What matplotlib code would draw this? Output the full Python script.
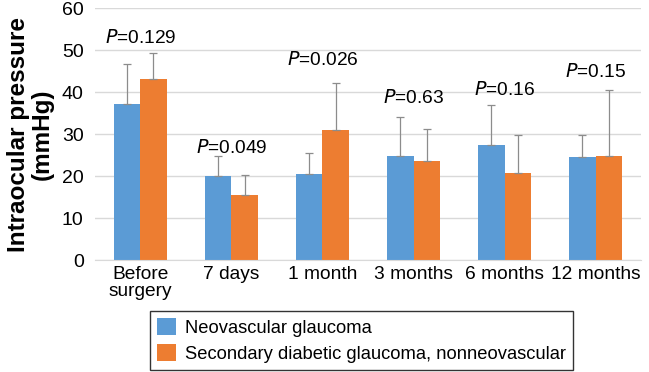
import numpy as np
import matplotlib.pyplot as plt

plt.rcParams['font.family'] = ['Liberation Sans', 'DejaVu Sans']

# data
groups = ['Before\nsurgery', '7 days', '1 month', '3 months', '6 months', '12 months']
neo_mean = [37.1, 19.9, 20.6, 24.7, 27.4, 24.5]
neo_top = [46.7, 24.8, 25.5, 34.0, 36.9, 29.8]
sec_mean = [43.2, 15.6, 31.0, 23.5, 20.8, 24.7]
sec_top = [49.4, 20.2, 42.1, 31.3, 29.8, 40.5]
p_labels = ['0.129', '0.049', '0.026', '0.63', '0.16', '0.15']
p_y = [52.8, 26.7, 47.6, 38.5, 40.6, 44.8]

blue = '#5B9BD5'
orange = '#ED7D31'

fig = plt.figure(figsize=(6.49, 3.72), dpi=100)
ax = fig.add_axes([0.146, 0.301, 0.842, 0.677])

x = np.arange(len(groups))
w = 0.29
neo_err = np.array(neo_top) - np.array(neo_mean)
sec_err = np.array(sec_top) - np.array(sec_mean)

b1 = ax.bar(x - w / 2, neo_mean, w, color=blue, label='Neovascular glaucoma', zorder=2)
b2 = ax.bar(x + w / 2, sec_mean, w, color=orange,
            label='Secondary diabetic glaucoma, nonneovascular', zorder=2)
ax.errorbar(x - w / 2, neo_mean, yerr=[np.zeros(len(x)), neo_err], fmt='none',
            ecolor='#8c8c8c', elinewidth=0.9, capsize=3, capthick=0.9, zorder=3)
ax.errorbar(x + w / 2, sec_mean, yerr=[np.zeros(len(x)), sec_err], fmt='none',
            ecolor='#8c8c8c', elinewidth=0.9, capsize=3, capthick=0.9, zorder=3)

for xi, lab, yy in zip(x, p_labels, p_y):
    ax.text(xi, yy, r'$\it{P}$=' + lab, ha='center', va='center', fontsize=13.8)

ax.set_xlim(-0.5, len(groups) - 0.5)
ax.set_ylim(0, 60)
ax.set_yticks(range(0, 61, 10))
ax.set_xticks(x)
ax.set_xticklabels(groups, fontsize=13.8, linespacing=1.0)
ax.tick_params(axis='y', labelsize=14, length=0, pad=8)
ax.tick_params(axis='x', length=0, pad=4)
ax.yaxis.grid(True, color='#d9d9d9', linewidth=1, zorder=0)
ax.set_axisbelow(True)
for s in ['top', 'right', 'left']:
    ax.spines[s].set_visible(False)
ax.spines['bottom'].set_color('#d9d9d9')

ax.set_ylabel('Intraocular pressure\n(mmHg)', fontsize=17.5, fontweight='bold',
              labelpad=6, linespacing=1.0)

leg = fig.legend(handles=[b1, b2], loc='upper left', bbox_to_anchor=(150 / 649, 1 - 311 / 372),
                 frameon=True, fancybox=False, edgecolor='black', fontsize=13.2,
                 handlelength=1.0, handleheight=1.0, handletextpad=0.5,
                 borderpad=0.4, labelspacing=0.4, borderaxespad=0)
leg.get_frame().set_linewidth(1.0)

fig.savefig('out.png', dpi=100)
